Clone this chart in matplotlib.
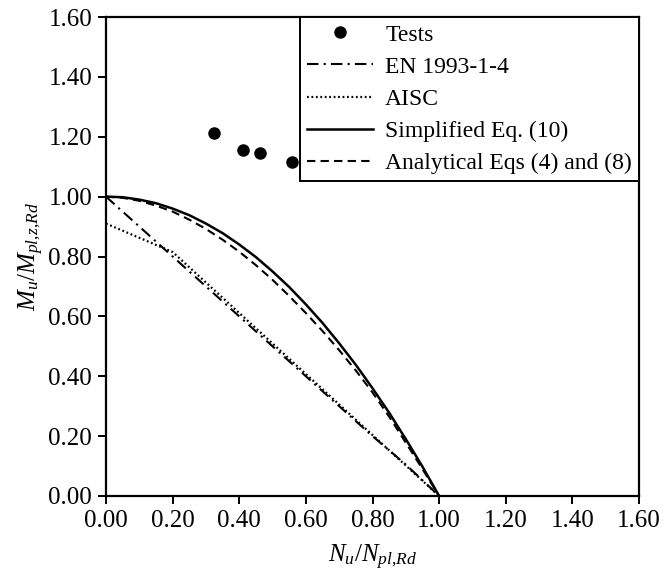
import matplotlib
matplotlib.use("Agg")
import matplotlib.pyplot as plt

plt.rcParams['font.family'] = ['Liberation Serif', 'DejaVu Serif']
plt.rcParams['mathtext.fontset'] = 'custom'
plt.rcParams['mathtext.rm'] = 'Liberation Serif'
plt.rcParams['mathtext.it'] = 'Liberation Serif:italic'

# Test results
test_n = [0.323, 0.410, 0.461, 0.559]
test_m = [1.213, 1.157, 1.145, 1.115]

# EN 1993-1-4
en_n = [0.00, 0.20, 0.40, 0.60, 0.80, 0.90, 1.00]
en_m = [1.00, 0.80, 0.60, 0.40, 0.20, 0.105, 0.00]

# AISC
aisc_n = [0.00, 0.20, 1.00]
aisc_m = [0.91, 0.815, 0.00]

# Simplified Eq. (10)
simp_n = [0.00, 0.05, 0.10, 0.15, 0.20, 0.25, 0.30, 0.35, 0.40, 0.45, 0.50,
          0.55, 0.60, 0.65, 0.70, 0.75, 0.80, 0.85, 0.90, 0.95, 1.00]
simp_m = [1.000, 0.998, 0.990, 0.978, 0.960, 0.938, 0.910, 0.878, 0.840, 0.798, 0.750,
          0.698, 0.640, 0.578, 0.510, 0.438, 0.360, 0.278, 0.190, 0.098, 0.000]

# Analytical Eqs (4) and (8)
anal_n = [0.00, 0.05, 0.10, 0.15, 0.20, 0.25, 0.30, 0.35, 0.40, 0.45, 0.50,
          0.55, 0.60, 0.65, 0.70, 0.75, 0.80, 0.85, 0.90, 0.95, 1.00]
anal_m = [1.000, 0.996, 0.986, 0.970, 0.950, 0.923, 0.892, 0.856, 0.816, 0.771, 0.722,
          0.668, 0.611, 0.551, 0.487, 0.419, 0.346, 0.265, 0.178, 0.090, 0.000]

xticks = [0.00, 0.20, 0.40, 0.60, 0.80, 1.00, 1.20, 1.40, 1.60]
yticks = [0.00, 0.20, 0.40, 0.60, 0.80, 1.00, 1.20, 1.40, 1.60]

fig = plt.figure(figsize=(6.64, 5.79), dpi=100)
ax = fig.add_axes([106 / 664, 1 - 496 / 579, (639 - 106) / 664, (496 - 17) / 579])

ax.plot(test_n, test_m, 'o', color='black', markersize=8, label='Tests', zorder=5, clip_on=False)
ax.plot(en_n, en_m, color='black', lw=1.5, dashes=(5.5, 2.5, 1, 2.5), label='EN 1993-1-4')
ax.plot(aisc_n, aisc_m, color='black', lw=1.6, dashes=(0.8, 1.2), label='AISC')
ax.plot(simp_n, simp_m, color='black', lw=1.8, label='Simplified Eq. (10)')
ax.plot(anal_n, anal_m, color='black', lw=1.5, dashes=(4, 2.5), label='Analytical Eqs (4) and (8)')

ax.set_xlim(0, 1.6)
ax.set_ylim(0, 1.6)
ax.set_xticks(xticks)
ax.set_yticks(yticks)
ax.set_xticklabels(['%.2f' % v for v in xticks])
ax.set_yticklabels(['%.2f' % v for v in yticks])
ax.tick_params(direction='out', length=6, width=1.4, labelsize=18, pad=4,
               top=False, right=False)
for sp in ax.spines.values():
    sp.set_linewidth(1.6)

ax.set_xlabel(r'$N_u/N_{pl{,}Rd}$', fontsize=18, labelpad=8)
ax.set_ylabel(r'$M_u/M_{pl{,}z{,}Rd}$', fontsize=18, labelpad=2)

leg = ax.legend(loc='upper right', borderaxespad=0, fontsize=17, frameon=True,
                fancybox=False, edgecolor='black', framealpha=1,
                handlelength=2.8, handletextpad=0.5, labelspacing=0.45,
                borderpad=0.3, numpoints=1)
leg.get_frame().set_linewidth(1.4)
leg.set_zorder(10)

plt.savefig('out.png', dpi=100)
